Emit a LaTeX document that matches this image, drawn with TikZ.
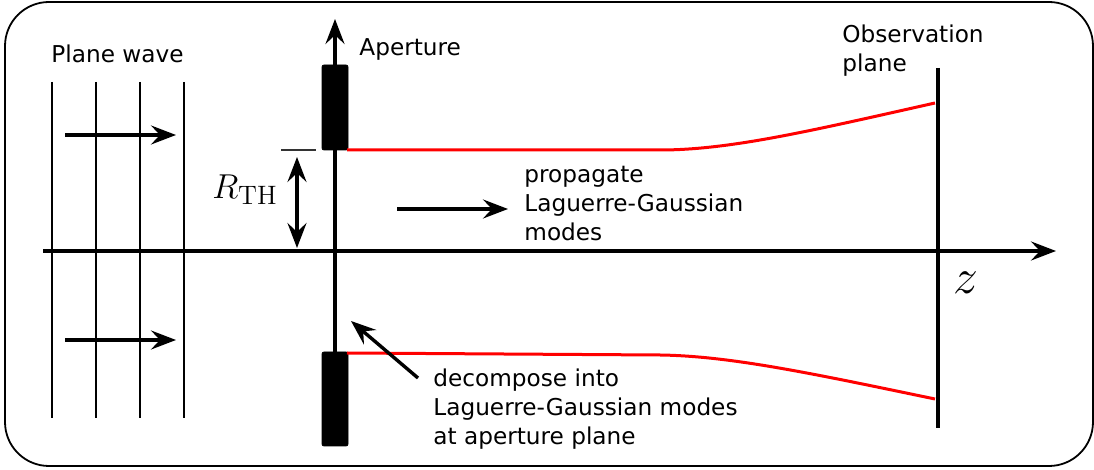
\documentclass[tikz,border=0pt]{standalone}
\usepackage{fontspec}
\newfontfamily\dvsans{DejaVu Sans}
\usetikzlibrary{arrows.meta}
\begin{document}
\begin{tikzpicture}[x=0.5pt,y=-0.5pt,
  thickln/.style={line width=1.7pt},
  thinln/.style={line width=0.75pt},
  tip/.tip={Stealth[length=12.5pt,width=9.5pt,inset=4.5pt]},
  arr/.style={line width=1.7pt,-tip},
  dblarr/.style={line width=1.7pt,tip-tip},
  beam/.style={red,line width=1.5pt},
  block/.style={fill=black,rounded corners=1pt},
  mathlbl/.style={inner sep=0pt,font=\fontsize{19}{22}\selectfont},
  lbl/.style={inner sep=0pt,font=\dvsans\fontsize{11.6}{14.5}\selectfont,align=left}]
\useasboundingbox (0,0) rectangle (1094,470);
\draw[line width=0.9pt,rounded corners=22pt] (5,2) rectangle (1093,466);
% plane wave
\foreach \x in {52,96,140,184} \draw[thinln] (\x,82) -- (\x,418);
\coordinate (w1s) at (65,135); \coordinate (w1e) at (176,135);
\coordinate (w2s) at (65,340); \coordinate (w2e) at (176,340);
\draw[arr] (w1s) -- (w1e);
\draw[arr] (w2s) -- (w2e);
\node[lbl,anchor=west] (pw) at (51,54) {Plane wave};
% axis
\coordinate (ax0) at (43,251); \coordinate (ax1) at (1056,251);
\draw[arr] (ax0) -- (ax1);
\node[inner sep=0pt,font=\fontsize{25}{28}\selectfont] (z) at (966,283) {$z$};
% aperture
\coordinate (ap0) at (335,445); \coordinate (ap1) at (335,19);
\draw[arr] (ap0) -- (ap1);
\draw[block] (322,65) rectangle (348,150);
\draw[block] (322,352) rectangle (348,446);
\node[lbl,anchor=west] (apl) at (359,49) {Aperture};
% R_TH
\draw[line width=0.75pt,black!80] (281,150) -- (316,150);
\coordinate (r0) at (297,157); \coordinate (r1) at (297,248);
\draw[dblarr] (r0) -- (r1);
\node[mathlbl] (rth) at (245,190) {$R_{\mathrm{TH}}$};
% beams
\draw[beam] (347,150) -- (660,150) .. controls (730,150) and (810,131) .. (935,103);
\draw[beam] (347,353) -- (660,355) .. controls (730,356) and (810,373) .. (935,399);
% observation plane
\draw[thickln] (938,68) -- (938,428);
\node[lbl,anchor=north west] (obs) at (842,24) {Observation\\plane};
% propagate
\coordinate (p0) at (397,209); \coordinate (p1) at (508,209);
\draw[arr] (p0) -- (p1);
\node[lbl,anchor=west] (prop) at (524,204) {propagate\\Laguerre-Gaussian\\modes};
% decompose
\coordinate (d0) at (418,378); \coordinate (d1) at (351,321);
\draw[arr] (d0) -- (d1);
\node[lbl,anchor=north west] (dec) at (433,368) {decompose into\\Laguerre-Gaussian modes\\at aperture plane};
\end{tikzpicture}
\end{document}
